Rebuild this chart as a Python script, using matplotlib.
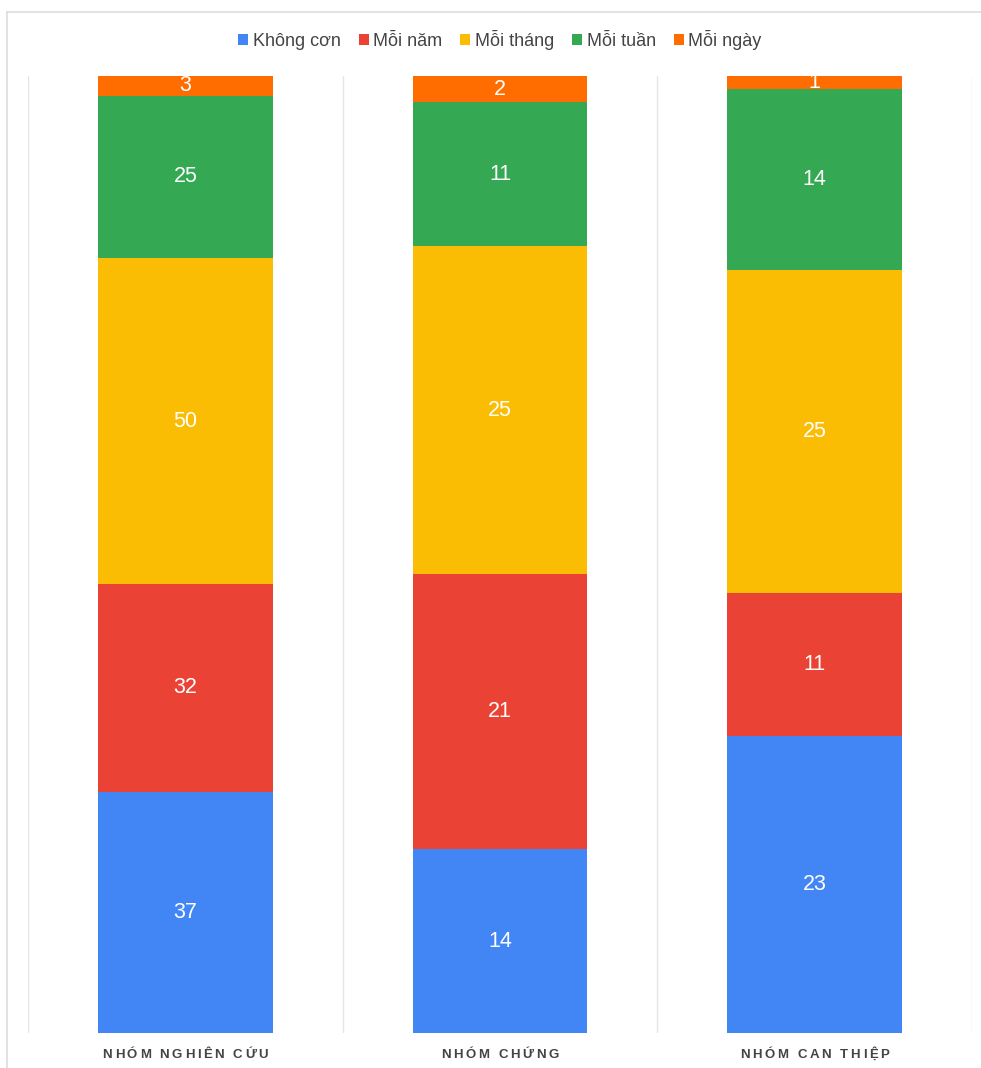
import numpy as np
import matplotlib.pyplot as plt
from matplotlib.patches import Patch
from matplotlib.lines import Line2D

plt.rcParams["font.family"] = ["Liberation Sans", "DejaVu Sans"]

# data
groups = ["NHÓM NGHIÊN CỨU", "NHÓM CHỨNG", "NHÓM CAN THIỆP"]
series = ["Không cơn", "Mỗi năm", "Mỗi tháng", "Mỗi tuần", "Mỗi ngày"]
khong_con = [37, 14, 23]
moi_nam = [32, 21, 11]
moi_thang = [50, 25, 25]
moi_tuan = [25, 11, 14]
moi_ngay = [3, 2, 1]
colors = ["#4285F4", "#EA4335", "#FBBC04", "#34A853", "#FF6D01"]

values = np.array([khong_con, moi_nam, moi_thang, moi_tuan, moi_ngay], dtype=float)
totals = values.sum(axis=0)
shares = values / totals

W, H = 981, 1068
fig = plt.figure(figsize=(W / 100, H / 100), dpi=100)
ax = fig.add_axes([28 / W, 35 / H, 944 / W, 957 / H])

x = np.arange(len(groups))
bottom = np.zeros(len(groups))
for i, name in enumerate(series):
    ax.bar(x, shares[i], width=0.556, bottom=bottom, color=colors[i],
           label=name, zorder=2)
    for j in range(len(groups)):
        ax.text(x[j], bottom[j] + shares[i][j] / 2, f"{int(values[i][j])}",
                ha="center", va="center", color="white", fontsize=15.5, zorder=3)
    bottom += shares[i]

ax.set_xlim(-0.5, len(groups) - 0.5)
ax.set_ylim(0, 1)
ax.set_yticks([])
ax.set_xticks([])
for s in ax.spines.values():
    s.set_visible(False)

# vertical gridlines between categories
for b in np.arange(-0.5, len(groups), 1.0):
    ax.axvline(b, color="#e6e6e6", linewidth=1, zorder=1)


# category labels with letter spacing (drawn char by char)
def spaced_label(cx_px, base_px, label, spacing=2.6, **kw):
    renderer = fig.canvas.get_renderer()
    widths = []
    for ch in label:
        t = fig.text(0, 0, ch if ch != " " else "\u00a0", **kw)
        widths.append(t.get_window_extent(renderer).width)
        t.remove()
    total = sum(widths) + spacing * (len(label) - 1)
    px = cx_px - total / 2
    for ch, w in zip(label, widths):
        if ch != " ":
            fig.text(px / W, base_px / H, ch, ha="left", va="baseline", **kw)
        px += w + spacing


for j, g in enumerate(groups):
    cx = 28 + (j + 0.5) * 944 / len(groups)
    spaced_label(cx, H - 1058, g, fontsize=9.5, fontweight="bold", color="#444444")

# outer frame (top + left)
fig.add_artist(Line2D([7 / W, 1], [1 - 12 / H, 1 - 12 / H],
                      color="#dddddd", linewidth=1.2))
fig.add_artist(Line2D([7 / W, 7 / W], [0, 1 - 12 / H],
                      color="#dddddd", linewidth=1.2))

handles = [Patch(facecolor=c, edgecolor="none") for c in colors]
fig.legend(handles, series, loc="center", bbox_to_anchor=(500 / W, 1 - 40 / H),
           ncol=5, frameon=False, fontsize=13, handlelength=0.55, handleheight=0.55,
           handletextpad=0.25, columnspacing=1.0, labelcolor="#444444")

plt.savefig("out.png", dpi=100)
